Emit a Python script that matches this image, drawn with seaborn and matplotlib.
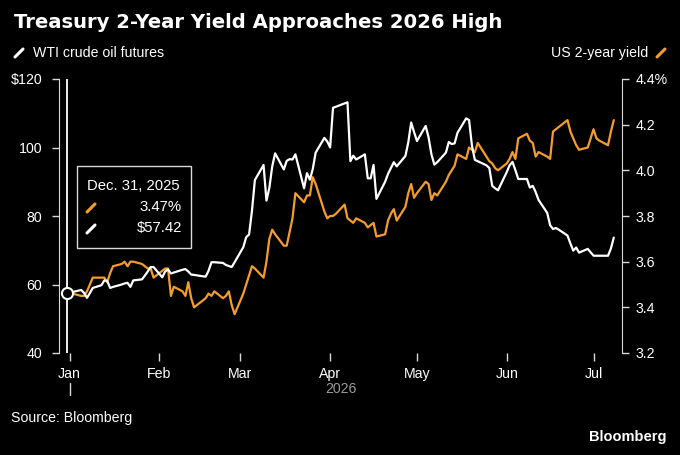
"""
Treasury 2-year yield vs WTI crude, Bloomberg style
"""

import matplotlib
matplotlib.use('Agg')
import matplotlib.pyplot as plt
import matplotlib.dates as mdates
import matplotlib.transforms as mtransforms
from matplotlib.lines import Line2D
import numpy as np
import pandas as pd
import seaborn as sns

# business days, Dec 31 2025 .. Jul 8 2026
dates = pd.bdate_range('2025-12-31', '2026-07-08')

oil = [
    57.42,
    # Jan
    57.6, 57.8, 58.4, 57.5, 56.1, 57.5, 59.0, 59.8, 61.2, 61.0, 59.0, 59.3,
    60.0, 60.3, 60.5, 59.3, 61.2, 61.5, 62.6, 63.8, 65.1, 65.1,
    # Feb
    62.1, 63.8, 64.4, 63.2, 63.5, 64.3, 64.5, 63.8, 62.9, 62.8,
    62.4, 62.3, 64.0, 66.5, 66.5, 66.3, 65.7, 65.4, 65.1, 66.5,
    # Mar
    70.9, 73.8, 74.6, 81.5, 90.5, 94.9, 84.5, 88.2, 94.5, 98.3,
    93.6, 96.1, 96.6, 96.5, 98.0, 88.1, 92.5, 90.6, 93.7, 98.5, 102.8, 101.8,
    # Apr
    100.0, 111.6, 111.9, 112.9, 113.2, 96.0, 97.6, 96.5, 98.0, 91.0, 91.0,
    94.9, 85.0, 90.0, 92.3, 94.0, 95.7, 94.5, 97.5, 101.5, 107.3, 104.5,
    # May
    101.9, 106.3, 103.0, 98.0, 95.0, 95.7, 98.5, 101.6, 101.0, 101.2, 104.3,
    108.5, 108.0, 100.5, 96.4, 96.0, 94.8, 94.0, 88.8, 88.1, 87.5,
    # Jun
    92.8, 94.8, 95.8, 93.4, 90.8, 90.8, 88.3, 88.8, 87.0, 84.7, 80.9,
    77.3, 76.2, 76.5, 76.0, 74.3, 72.0, 69.9, 70.8, 69.3, 70.4, 69.4,
    # Jul
    68.4, 68.4, 68.4, 68.4, 70.5, 73.7,
]

yld = [
    3.47,
    # Jan
    3.47, 3.46, 3.45, 3.45, 3.47, 3.50, 3.53, 3.53, 3.53, 3.51, 3.55, 3.58,
    3.59, 3.60, 3.58, 3.60, 3.60, 3.59, 3.58, 3.57, 3.57, 3.53,
    # Feb
    3.56, 3.57, 3.57, 3.45, 3.49, 3.47, 3.45, 3.51, 3.44, 3.40,
    3.43, 3.44, 3.46, 3.45, 3.47, 3.44, 3.45, 3.47, 3.41, 3.37,
    # Mar
    3.46, 3.50, 3.54, 3.58, 3.57, 3.53, 3.60, 3.70, 3.74, 3.72,
    3.67, 3.67, 3.73, 3.79, 3.90, 3.86, 3.89, 3.89, 3.97, 3.94, 3.82, 3.79,
    # Apr
    3.80, 3.80, 3.81, 3.85, 3.79, 3.78, 3.77, 3.79, 3.77, 3.75, 3.76,
    3.77, 3.71, 3.72, 3.78, 3.81, 3.83, 3.78, 3.84, 3.90, 3.94, 3.88,
    # May
    3.90, 3.95, 3.94, 3.87, 3.90, 3.89, 3.95, 3.98, 4.00, 4.02, 4.07,
    4.05, 4.10, 4.09, 4.08, 4.12, 4.06, 4.04, 4.03, 4.01, 4.00,
    # Jun
    4.03, 4.05, 4.08, 4.05, 4.14, 4.16, 4.13, 4.12, 4.06, 4.08, 4.06,
    4.05, 4.17, 4.18, 4.19, 4.22, 4.17, 4.14, 4.11, 4.09, 4.10, 4.14,
    # Jul
    4.18, 4.14, 4.13, 4.11, 4.17, 4.22,
]

oil_ticks = [40, 60, 80, 100, 120]
oil_labels = ['40', '60', '80', '100', '$120']
yld_ticks = [3.2, 3.4, 3.6, 3.8, 4.0, 4.2, 4.4]
yld_labels = ['3.2', '3.4', '3.6', '3.8', '4.0', '4.2', '4.4%']

hover_date = pd.Timestamp('2025-12-31')
hover_title = 'Dec. 31, 2025'
hover_yld = '3.47%'
hover_oil = '$57.42'

ORANGE = '#f59d2a'
WHITE = '#ffffff'
GREY = '#d9d9d9'
FS = 10.2

df = pd.DataFrame({'date': dates, 'oil': oil, 'yld': yld})

sns.set_style('dark', {'axes.facecolor': 'black', 'figure.facecolor': 'black'})
plt.rcParams['font.family'] = ['Liberation Sans', 'DejaVu Sans']
plt.rcParams['text.color'] = WHITE

fig = plt.figure(figsize=(6.8, 4.55), dpi=100)
fig.patch.set_facecolor('black')
ax = fig.add_axes([59 / 680, 1 - 353 / 455, 563 / 680, 274 / 455])
ax2 = ax.twinx()

sns.lineplot(data=df, x='date', y='yld', ax=ax2, color=ORANGE, linewidth=1.6)
sns.lineplot(data=df, x='date', y='oil', ax=ax, color=WHITE, linewidth=1.6)
# keep white line on top of orange
ax.set_zorder(ax2.get_zorder() + 1)
ax.patch.set_visible(False)

# hover crosshair + marker
ax.axvline(hover_date, color=WHITE, linewidth=1.3, zorder=1)
ax.plot([hover_date], [oil[0]], marker='o', markersize=8, markerfacecolor='black',
        markeredgecolor=WHITE, markeredgewidth=1.5, zorder=5)

ax.set_xlim(pd.Timestamp('2025-12-28 08:00'), pd.Timestamp('2026-07-10 20:00'))
ax.set_ylim(40, 120)
ax2.set_ylim(3.2, 4.4)

ax.set_yticks(oil_ticks)
ax.set_yticklabels(oil_labels)
ax2.set_yticks(yld_ticks)
ax2.set_yticklabels(yld_labels)

ax.xaxis.set_major_locator(mdates.MonthLocator())
ax.xaxis.set_major_formatter(mdates.DateFormatter('%b'))

for a in (ax, ax2):
    a.set_xlabel('')
    a.set_ylabel('')
    a.grid(False)
    for s in a.spines.values():
        s.set_visible(False)
ax.spines['left'].set_visible(True)
ax.spines['left'].set_color(GREY)
ax2.spines['right'].set_visible(True)
ax2.spines['right'].set_color(GREY)

ax.tick_params(axis='y', colors=GREY, labelcolor=WHITE, length=5, width=1,
               pad=7, labelsize=FS, left=True)
ax2.tick_params(axis='y', colors=GREY, labelcolor=WHITE, length=5, width=1,
                pad=5, labelsize=FS, right=True)
ax.tick_params(axis='x', colors=GREY, labelcolor=WHITE, length=6, width=1,
               pad=4, labelsize=FS, bottom=True, direction='out')

# year label with its marker tick under Jan
trans = mtransforms.blended_transform_factory(ax.transData, ax.transAxes)
ax.plot([pd.Timestamp('2026-01-01')] * 2, [-0.108, -0.152], transform=trans,
        color=GREY, linewidth=1, clip_on=False)
ax.text(0.5, -0.13, '2026', transform=ax.transAxes, ha='center', va='center',
        color='#9a9a9a', fontsize=FS)

# tooltip box
fig.patches.append(plt.Rectangle((77 / 680, 1 - 248 / 455), 114 / 680, 82 / 455,
                                 transform=fig.transFigure, facecolor='black',
                                 edgecolor=GREY, linewidth=1, zorder=10))
fig.text(87 / 680, 1 - 186 / 455, hover_title, ha='left', va='center',
         fontsize=FS + 0.5, color=WHITE, zorder=11)
fig.text(182 / 680, 1 - 207 / 455, hover_yld, ha='right', va='center',
         fontsize=FS + 0.5, color=WHITE, zorder=11)
fig.text(182 / 680, 1 - 228 / 455, hover_oil, ha='right', va='center',
         fontsize=FS + 0.5, color=WHITE, zorder=11)


def slash(x, y, color, size=4):
    """little diagonal legend swatch, centre in pixels"""
    fig.add_artist(Line2D([(x - size) / 680, (x + size) / 680],
                          [1 - (y + size) / 455, 1 - (y - size) / 455],
                          color=color, linewidth=2.2, solid_capstyle='round',
                          zorder=12))


slash(91, 208, ORANGE)
slash(91, 229, WHITE)

# header
fig.text(14 / 680, 1 - 22 / 455, 'Treasury 2-Year Yield Approaches 2026 High',
         ha='left', va='center', fontsize=14.1, fontweight='bold', color=WHITE,
         family='DejaVu Sans')
slash(19, 53, WHITE)
fig.text(33 / 680, 1 - 53 / 455, 'WTI crude oil futures', ha='left', va='center',
         fontsize=FS, color=WHITE)
slash(661, 53, ORANGE)
fig.text(648 / 680, 1 - 53 / 455, 'US 2-year yield', ha='right', va='center',
         fontsize=FS, color=WHITE)

# footer
fig.text(11 / 680, 1 - 418 / 455, 'Source: Bloomberg', ha='left', va='center',
         fontsize=FS, color=WHITE)
fig.text(666 / 680, 1 - 437 / 455, 'Bloomberg', ha='right', va='center',
         fontsize=FS + 0.3, fontweight='bold', color=WHITE)

fig.savefig('out.png', dpi=100, facecolor='black')
plt.close(fig)
